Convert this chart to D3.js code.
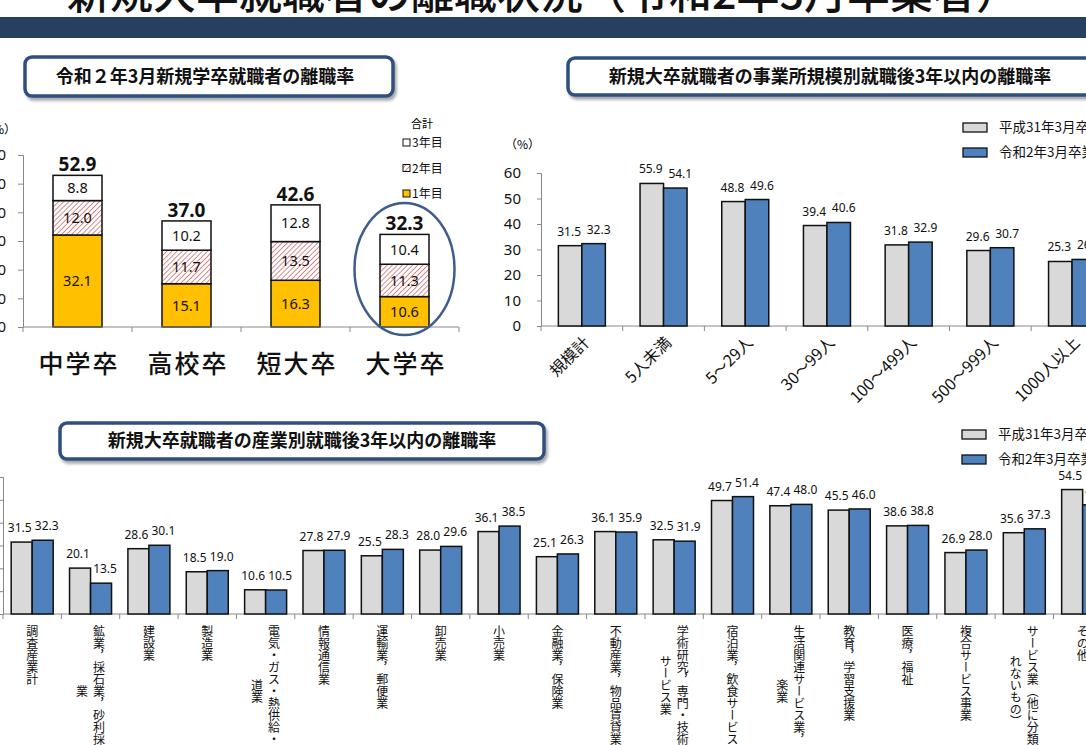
<!DOCTYPE html>
<html>
<head>
<meta charset="utf-8">
<script src="https://cdn.jsdelivr.net/npm/d3@7"></script>
<style>
  body { margin: 0; background: #fff; overflow: hidden; }
  svg { display: block; }
</style>
</head>
<body>
<div id="chart"></div>
<script>
// ---- data ----
var schoolCats = ["中学卒", "高校卒", "短大卒", "大学卒"];
var year1 = [32.1, 15.1, 16.3, 10.6];
var year2 = [12.0, 11.7, 13.5, 11.3];
var year3 = [8.8, 10.2, 12.8, 10.4];
var schoolTotal = [52.9, 37.0, 42.6, 32.3];
var yearLabels = ["3年目", "2年目", "1年目"];

var sizeCats = ["規模計", "5人未満", "5～29人", "30～99人", "100～499人", "500～999人", "1000人以上"];
var sizeH31 = [31.5, 55.9, 48.8, 39.4, 31.8, 29.6, 25.3];
var sizeR2 = [32.3, 54.1, 49.6, 40.6, 32.9, 30.7, 26.1];

var industryCats = [
  ["調査産業計"],
  ["鉱業，採石業，砂利採取", "業"],
  ["建設業"],
  ["製造業"],
  ["電気・ガス・熱供給・水", "道業"],
  ["情報通信業"],
  ["運輸業，郵便業"],
  ["卸売業"],
  ["小売業"],
  ["金融業，保険業"],
  ["不動産業，物品賃貸業"],
  ["学術研究，専門・技術", "サービス業"],
  ["宿泊業，飲食サービス業"],
  ["生活関連サービス業，娯", "楽業"],
  ["教育，学習支援業"],
  ["医療，福祉"],
  ["複合サービス事業"],
  ["サービス業（他に分類さ", "れないもの）"],
  ["その他"]
];
var indH31 = [31.5, 20.1, 28.6, 18.5, 10.6, 27.8, 25.5, 28.0, 36.1, 25.1, 36.1, 32.5, 49.7, 47.4, 45.5, 38.6, 26.9, 35.6, 54.5];
var indR2 = [32.3, 13.5, 30.1, 19.0, 10.5, 27.9, 28.3, 29.6, 38.5, 26.3, 35.9, 31.9, 51.4, 48.0, 46.0, 38.8, 28.0, 37.3, 47.8];

var seriesNames = ["平成31年3月卒業者", "令和2年3月卒業者"];
var yTicks = [0, 10, 20, 30, 40, 50, 60];

// ---- setup ----
var w = 1086;
var h = 745;
var JP = "'Noto Sans CJK JP', 'Noto Sans', sans-serif";
var NUM = "'Noto Sans', 'Noto Sans CJK JP', sans-serif";
var gray = "#d9d9d9";
var blue = "#4f81bd";
var axisColor = "#888";

var svg = d3.select("#chart").append("svg").attr("width", w).attr("height", h);
var defs = svg.append("defs");

var pat = defs.append("pattern")
  .attr("id", "hatch")
  .attr("patternUnits", "userSpaceOnUse")
  .attr("width", 3.6).attr("height", 3.6)
  .attr("patternTransform", "rotate(45)");
pat.append("rect").attr("width", 3.6).attr("height", 3.6).attr("fill", "#fff");
pat.append("line").attr("x1", 0).attr("y1", 0).attr("x2", 0).attr("y2", 3.6)
  .attr("stroke", "#c9595a").attr("stroke-width", 1.4);

var flt = defs.append("filter").attr("id", "shadow")
  .attr("x", "-10%").attr("y", "-30%").attr("width", "130%").attr("height", "180%");
flt.append("feDropShadow").attr("dx", 2).attr("dy", 3).attr("stdDeviation", 1.5)
  .attr("flood-color", "#000").attr("flood-opacity", 0.35);

// page title (cut at top) and band
svg.append("text")
  .attr("x", 543).attr("y", 9)
  .attr("text-anchor", "middle")
  .attr("font-family", JP).attr("font-size", 43).attr("font-weight", 500).attr("fill", "#111")
  .text("新規大卒就職者の離職状況（令和2年3月卒業者）");

svg.append("rect").attr("x", 0).attr("y", 17).attr("width", w).attr("height", 21).attr("fill", "#28405f");

function header(x, y, bw, bh, label, tx) {
  svg.append("rect")
    .attr("x", x).attr("y", y).attr("width", bw).attr("height", bh)
    .attr("rx", 7)
    .attr("fill", "#fff").attr("stroke", "#2f4f7f").attr("stroke-width", 3.5)
    .attr("filter", "url(#shadow)");
  svg.append("text")
    .attr("x", tx).attr("y", y + bh / 2)
    .attr("dy", "0.36em")
    .attr("text-anchor", "middle")
    .attr("font-family", JP).attr("font-size", 18).attr("font-weight", "bold")
    .attr("fill", "#111")
    .text(label);
}

header(25, 57, 368, 39, "令和２年3月新規学卒就職者の離職率", 205);
header(568, 58, 560, 37, "新規大卒就職者の事業所規模別就職後3年以内の離職率", 830);
header(60, 423, 484, 36, "新規大卒就職者の産業別就職後3年以内の離職率", 302);

// common axis helpers
function styleAxis(g) {
  g.select(".domain").attr("stroke", axisColor);
  g.selectAll(".tick line").attr("stroke", axisColor);
}

function catAxis(y, scale, tick) {
  var g = svg.append("g");
  var r = scale.range();
  g.append("line").attr("x1", r[0]).attr("x2", r[1]).attr("y1", y).attr("y2", y)
    .attr("stroke", axisColor);
  var edges = scale.domain().map(function (d) { return scale(d); }).concat([r[1]]);
  g.selectAll("line.t").data(edges).enter().append("line").attr("class", "t")
    .attr("x1", function (d) { return d; }).attr("x2", function (d) { return d; })
    .attr("y1", y).attr("y2", y + tick)
    .attr("stroke", axisColor);
}

// ---- chart 1: stacked by school ----
var yL = d3.scaleLinear().domain([0, 60]).range([327, 155]);
var xL = d3.scaleBand().domain(schoolCats).range([23, 459]);
var barWL = 49;

var stackRows = schoolCats.map(function (c, i) {
  return { cat: c, y1: year1[i], y2: year2[i], y3: year3[i] };
});
var stacked = d3.stack().keys(["y1", "y2", "y3"])(stackRows);
var segFill = { y1: "#ffc000", y2: "url(#hatch)", y3: "#fff" };

var gL = svg.append("g");
gL.append("g")
  .attr("transform", "translate(23,0)")
  .call(d3.axisLeft(yL).tickValues(yTicks).tickSize(5).tickPadding(12))
  .call(styleAxis)
  .selectAll("text").attr("font-family", NUM).attr("font-size", 15).attr("fill", "#111");
svg.append("text").attr("x", 16).attr("y", 134).attr("text-anchor", "end")
  .attr("font-family", JP).attr("font-size", 12).text("（%）");

catAxis(327, xL, 5);

stacked.forEach(function (s) {
  gL.selectAll(null).data(s).enter().append("rect")
    .attr("x", function (d) { return xL(d.data.cat) + (xL.bandwidth() - barWL) / 2; })
    .attr("y", function (d) { return yL(d[1]); })
    .attr("width", barWL)
    .attr("height", function (d) { return yL(d[0]) - yL(d[1]); })
    .attr("fill", segFill[s.key])
    .attr("stroke", "#111").attr("stroke-width", 1.5);
  gL.selectAll(null).data(s).enter().append("text")
    .attr("x", function (d) { return xL(d.data.cat) + xL.bandwidth() / 2; })
    .attr("y", function (d) { return yL((d[0] + d[1]) / 2); })
    .attr("dy", "0.36em")
    .attr("text-anchor", "middle")
    .attr("font-family", NUM).attr("font-size", 14.5).attr("fill", "#111")
    .text(function (d) { return d.data[s.key].toFixed(1); });
});

gL.selectAll(null).data(schoolCats).enter().append("text")
  .attr("x", function (d) { return xL(d) + xL.bandwidth() / 2; })
  .attr("y", function (d, i) { return yL(schoolTotal[i]) - 4; })
  .attr("text-anchor", "middle")
  .attr("font-family", NUM).attr("font-size", 19).attr("font-weight", "bold").attr("fill", "#111")
  .text(function (d, i) { return schoolTotal[i].toFixed(1); });

gL.selectAll(null).data(schoolCats).enter().append("text")
  .attr("x", function (d) { return xL(d) + xL.bandwidth() / 2 + 1.5; })
  .attr("y", 373)
  .attr("text-anchor", "middle")
  .attr("font-family", JP).attr("font-size", 25).attr("font-weight", 500)
  .attr("letter-spacing", 2).attr("fill", "#111")
  .text(function (d) { return d; });

// highlight ellipse around 大学卒
svg.append("ellipse")
  .attr("cx", xL("大学卒") + xL.bandwidth() / 2)
  .attr("cy", 269)
  .attr("rx", 50).attr("ry", 66)
  .attr("fill", "none").attr("stroke", "#3e5d8c").attr("stroke-width", 2.5);

// legend chart 1
svg.append("text").attr("x", 422).attr("y", 128).attr("text-anchor", "middle")
  .attr("font-family", JP).attr("font-size", 11).text("合計");
var legL = svg.append("g");
var legFill = ["#fff", "url(#hatch)", "#ffc000"];
legL.selectAll("rect").data(yearLabels).enter().append("rect")
  .attr("x", 403).attr("y", function (d, i) { return 139 + i * 25.5; })
  .attr("width", 7).attr("height", 7)
  .attr("fill", function (d, i) { return legFill[i]; })
  .attr("stroke", "#111").attr("stroke-width", 1);
legL.selectAll("text").data(yearLabels).enter().append("text")
  .attr("x", 412).attr("y", function (d, i) { return 143 + i * 25.5; })
  .attr("dy", "0.36em")
  .attr("font-family", JP).attr("font-size", 12).attr("fill", "#111")
  .text(function (d) { return d; });

// ---- grouped bar helper ----
function grouped(cats, v1, v2, x, y, barW, labelGap, fontSize, shift) {
  var x1 = d3.scaleBand().domain([0, 1]).range([0, barW * 2]);
  var g = svg.append("g");
  var rows = cats.map(function (c, i) { return { i: i, vals: [v1[i], v2[i]] }; });
  var grp = g.selectAll("g").data(rows).enter().append("g")
    .attr("transform", function (d) { return "translate(" + (x(d.i) + (x.bandwidth() - barW * 2) / 2) + ",0)"; });
  grp.selectAll("rect").data(function (d) { return d.vals; }).enter().append("rect")
    .attr("x", function (d, j) { return x1(j); })
    .attr("y", function (d) { return y(d); })
    .attr("width", x1.bandwidth())
    .attr("height", function (d) { return y(0) - y(d); })
    .attr("fill", function (d, j) { return j === 0 ? gray : blue; })
    .attr("stroke", "#111").attr("stroke-width", 1.5);
  grp.selectAll("text").data(function (d) { return d.vals; }).enter().append("text")
    .attr("x", function (d, j) { return x1(j) + x1.bandwidth() / 2 + shift[j]; })
    .attr("y", function (d) { return y(d) - labelGap; })
    .attr("text-anchor", "middle")
    .attr("font-family", NUM).attr("font-size", fontSize).attr("fill", "#111")
    .text(function (d) { return d.toFixed(1); });
}

function legend(x, y0, step) {
  var g = svg.append("g");
  g.selectAll("rect").data(seriesNames).enter().append("rect")
    .attr("x", x).attr("y", function (d, i) { return y0 + i * step - 4.5; })
    .attr("width", 24).attr("height", 9)
    .attr("fill", function (d, i) { return i === 0 ? gray : blue; })
    .attr("stroke", "#111").attr("stroke-width", 1.3);
  g.selectAll("text").data(seriesNames).enter().append("text")
    .attr("x", x + 36).attr("y", function (d, i) { return y0 + i * step; })
    .attr("dy", "0.36em")
    .attr("font-family", JP).attr("font-size", 13.5).attr("fill", "#111")
    .text(function (d) { return d; });
}

// ---- chart 2: by company size ----
var yR = d3.scaleLinear().domain([0, 60]).range([326, 173]);
var xR = d3.scaleBand().domain(d3.range(sizeCats.length)).range([541, 541 + 81.7 * sizeCats.length]);

svg.append("g")
  .attr("transform", "translate(541,0)")
  .call(d3.axisLeft(yR).tickValues(yTicks).tickSize(4).tickPadding(16))
  .call(styleAxis)
  .selectAll("text").attr("font-family", NUM).attr("font-size", 15).attr("fill", "#111");
svg.append("text").attr("x", 505).attr("y", 145).attr("dy", "0.36em")
  .attr("font-family", JP).attr("font-size", 12).text("（%）");

catAxis(326, xR, 5);
grouped(sizeCats, sizeH31, sizeR2, xR, yR, 23.5, 10, 12, [-1, 5]);

svg.append("g").selectAll("text").data(sizeCats).enter().append("text")
  .attr("transform", function (d, i) {
    return "translate(" + (xR(i) + xR.bandwidth() / 2 + 3) + ",338) rotate(-45)";
  })
  .attr("text-anchor", "end")
  .attr("dy", "0.5em")
  .attr("font-family", JP).attr("font-size", 16).attr("fill", "#111")
  .text(function (d) { return d; });

legend(963, 127.5, 25);

// ---- chart 3: by industry ----
var yB = d3.scaleLinear().domain([0, 60]).range([614, 477]);
var xB = d3.scaleBand().domain(d3.range(industryCats.length)).range([3, 3 + 58.36 * industryCats.length]);

svg.append("g")
  .attr("transform", "translate(3,0)")
  .call(d3.axisLeft(yB).tickValues(yTicks).tickSize(4).tickPadding(8))
  .call(styleAxis)
  .selectAll("text").attr("font-family", NUM).attr("font-size", 14).attr("fill", "#111");
svg.append("text").attr("x", 6).attr("y", 441).attr("text-anchor", "end")
  .attr("font-family", JP).attr("font-size", 12).text("（%）");

catAxis(614, xB, 5);
grouped(industryCats, indH31, indR2, xB, yB, 21, 10, 12, [-2, 4]);

// vertical category labels
var pitch = 12;
var colGap = 17;
var gLab = svg.append("g");
industryCats.forEach(function (lines, i) {
  var cx = xB(i) + xB.bandwidth() / 2;
  var maxLen = d3.max(lines, function (l) { return l.length; });
  var midY = 625 + (maxLen * pitch) / 2;
  lines.forEach(function (line, k) {
    gLab.append("text")
      .attr("x", cx + ((lines.length - 1) / 2 - k) * colGap)
      .attr("y", midY)
      .attr("text-anchor", "middle")
      .style("writing-mode", "vertical-rl")
      .attr("font-family", JP).attr("font-size", pitch).attr("fill", "#111")
      .text(line);
  });
});

legend(962, 434.5, 25);
</script>
</body>
</html>
